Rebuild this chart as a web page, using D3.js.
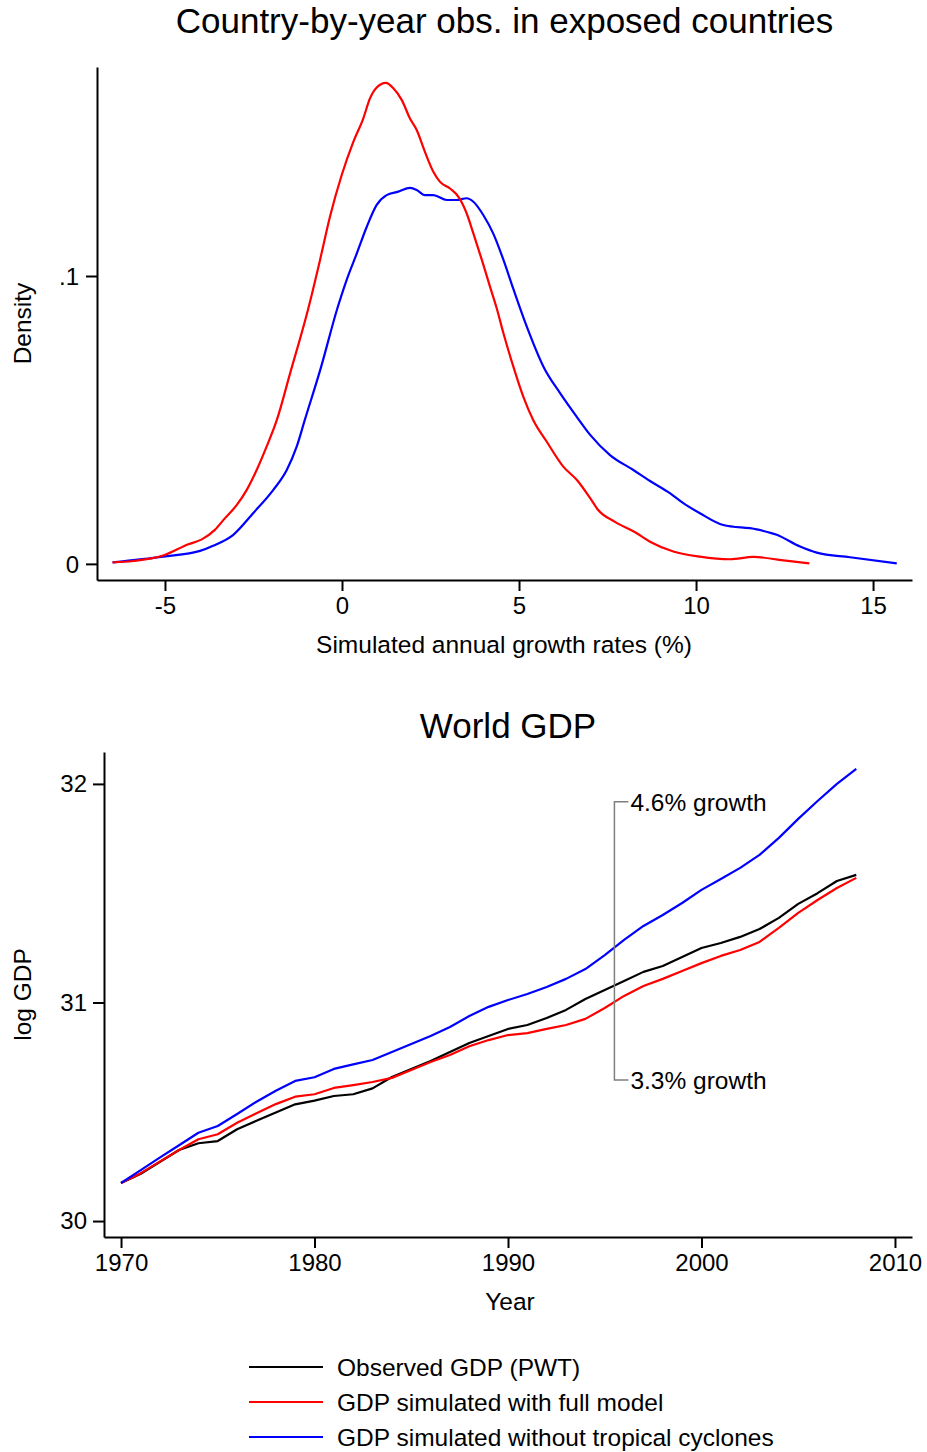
<!DOCTYPE html>
<html>
<head>
<meta charset="utf-8">
<script src="https://cdn.jsdelivr.net/npm/d3@7"></script>
<style>
  html, body { margin: 0; padding: 0; background: #fff; }
  svg { display: block; font-family: "Liberation Sans", Arial, Helvetica, sans-serif; }
</style>
</head>
<body>
<svg id="chart" width="927" height="1452"></svg>
<script>
// Kernel density of simulated annual growth rates (growth %, density)
const densityFull = [
  [-6.48,0.0005],[-5.9,0.001],[-5.05,0.0029],[-4.34,0.0068],[-3.96,0.0085],[-3.59,0.0118],
  [-3.31,0.0158],[-2.97,0.0205],[-2.69,0.0257],[-2.41,0.0326],[-2.13,0.0407],[-1.84,0.05],
  [-1.47,0.066],[-0.95,0.0888],[-0.62,0.1056],[-0.34,0.1206],[-0.01,0.135],[0.32,0.1466],
  [0.6,0.1547],[0.79,0.1617],[0.98,0.1655],[1.24,0.1671],[1.45,0.1652],[1.69,0.1611],
  [1.92,0.1547],[2.11,0.1507],[2.34,0.1432],[2.58,0.1362],[2.77,0.1327],[3.05,0.1304],
  [3.29,0.1275],[3.52,0.1218],[3.71,0.1148],[3.95,0.1056],[4.18,0.0963],[4.37,0.0888],
  [4.56,0.0801],[4.84,0.0685],[5.12,0.0581],[5.4,0.05],[5.78,0.0425],[6.25,0.0338],
  [6.63,0.0292],[7.0,0.023],[7.23,0.0188],[7.71,0.0146],[8.28,0.011],[8.7,0.0077],
  [9.36,0.0043],[10.11,0.0025],[10.96,0.0016],[11.62,0.0024],[12.47,0.0012],[13.2,0.0002]
];
const densityNoCyclones = [
  [-6.48,0.0005],[-5.05,0.0025],[-4.01,0.0045],[-3.64,0.0063],[-3.07,0.0101],[-2.51,0.0176],
  [-1.94,0.0257],[-1.56,0.0326],[-1.28,0.0407],[-1.05,0.05],[-0.6,0.068],[-0.13,0.0888],
  [0.13,0.0986],[0.42,0.1079],[0.70,0.1171],[0.98,0.1247],[1.26,0.1281],[1.59,0.1293],
  [1.92,0.1306],[2.11,0.1299],[2.34,0.1281],[2.58,0.1281],[2.96,0.1264],[3.24,0.1264],
  [3.52,0.127],[3.71,0.1258],[3.99,0.1212],[4.27,0.1148],[4.56,0.1056],[4.84,0.0955],
  [5.22,0.0824],[5.69,0.0685],[6.16,0.0593],[6.63,0.0511],[7.01,0.0448],[7.57,0.0378],
  [8.23,0.0326],[8.70,0.0288],[9.27,0.0245],[9.64,0.0211],[10.11,0.0176],[10.77,0.0135],
  [11.71,0.012],[12.28,0.0101],[12.94,0.006],[13.41,0.0039],[14.35,0.0023],[15.67,0.0002]
];
const densityXTicks = [-5, 0, 5, 10, 15];
const densityXTickLabels = ["-5", "0", "5", "10", "15"];
const densityYTicks = [0, 0.1];
const densityYTickLabels = ["0", ".1"];

// World GDP (log), 1970-2008
const years = d3.range(1970, 2009);
const gdpObserved = [
  30.174,30.215,30.27,30.325,30.356,30.366,30.42,30.459,30.497,30.534,
  30.551,30.572,30.58,30.607,30.659,30.696,30.732,30.773,30.815,30.847,
  30.879,30.897,30.929,30.966,31.016,31.057,31.098,31.14,31.167,31.208,
  31.249,31.272,31.30,31.336,31.387,31.451,31.50,31.556,31.584
];
const gdpFull = [
  30.174,30.218,30.272,30.325,30.374,30.397,30.45,30.493,30.535,30.569,
  30.58,30.609,30.622,30.636,30.655,30.691,30.728,30.76,30.80,30.828,
  30.851,30.86,30.879,30.897,30.925,30.975,31.03,31.075,31.108,31.144,
  31.18,31.213,31.24,31.277,31.341,31.41,31.469,31.524,31.57
];
const gdpNoCyclones = [
  30.174,30.232,30.29,30.347,30.404,30.435,30.49,30.546,30.596,30.641,
  30.658,30.696,30.717,30.737,30.773,30.81,30.847,30.888,30.938,30.98,
  31.011,31.039,31.071,31.108,31.153,31.217,31.286,31.35,31.40,31.455,
  31.515,31.565,31.616,31.675,31.753,31.84,31.922,32.0,32.069
];
const gdpXTicks = [1970, 1980, 1990, 2000, 2010];
const gdpYTicks = [30, 31, 32];
const growthNotes = [
  { label: "4.6% growth", year: 1995.5, value: 31.918 },
  { label: "3.3% growth", year: 1995.5, value: 30.645 }
];
const legendItems = [
  { label: "Observed GDP (PWT)", color: "#000000" },
  { label: "GDP simulated with full model", color: "#ff0000" },
  { label: "GDP simulated without tropical cyclones", color: "#0000ff" }
];

const svg = d3.select("#chart");
const TICK_FONT = 24, TITLE_FONT = 35, LABEL_FONT = 24.5;

function styleAxis(g) {
  g.select(".domain").attr("stroke", "#000").attr("stroke-width", 2);
  g.selectAll(".tick line").attr("stroke", "#000").attr("stroke-width", 2);
  g.selectAll(".tick text").attr("fill", "#000").attr("font-size", TICK_FONT)
    .attr("font-family", "Liberation Sans, Arial, sans-serif");
}

// ---------- Top panel: density ----------
const p1 = { left: 97, right: 912, top: 67, bottom: 580 };
const x1 = d3.scaleLinear().domain([-6.92, 16.1]).range([p1.left, p1.right]);
const y1 = d3.scaleLinear().domain([-0.0056, 0.1726]).range([p1.bottom, p1.top]);

svg.append("text").attr("x", (p1.left + p1.right) / 2).attr("y", 33)
  .attr("text-anchor", "middle").attr("font-size", TITLE_FONT)
  .text("Country-by-year obs. in exposed countries");

svg.append("g").attr("transform", `translate(0,${p1.bottom})`)
  .call(d3.axisBottom(x1).tickValues(densityXTicks).tickSizeInner(11).tickSizeOuter(0).tickPadding(6)
    .tickFormat((d, i) => densityXTickLabels[i]))
  .call(styleAxis);
svg.append("g").attr("transform", `translate(${p1.left},0)`)
  .call(d3.axisLeft(y1).tickValues(densityYTicks).tickSizeInner(11).tickSizeOuter(0).tickPadding(7)
    .tickFormat((d, i) => densityYTickLabels[i]))
  .call(styleAxis)
  .selectAll(".tick text").attr("dy", "0.36em");

const densLine = d3.line().x(d => x1(d[0])).y(d => y1(d[1])).curve(d3.curveMonotoneX);
svg.append("path").datum(densityNoCyclones).attr("d", densLine)
  .attr("fill", "none").attr("stroke", "#0000ff").attr("stroke-width", 2.2);
svg.append("path").datum(densityFull).attr("d", densLine)
  .attr("fill", "none").attr("stroke", "#ff0000").attr("stroke-width", 2.2);

svg.append("text").attr("x", 504).attr("y", 653).attr("text-anchor", "middle")
  .attr("font-size", LABEL_FONT).text("Simulated annual growth rates (%)");
svg.append("text").attr("transform", `translate(31,${(p1.top + p1.bottom) / 2}) rotate(-90)`)
  .attr("text-anchor", "middle").attr("font-size", LABEL_FONT).text("Density");

// ---------- Bottom panel: world GDP ----------
const p2 = { left: 104, right: 912, top: 752, bottom: 1237 };
const x2 = d3.scaleLinear().domain([1969.12, 2010.88]).range([p2.left, p2.right]);
const y2 = d3.scaleLinear().domain([29.927, 32.146]).range([p2.bottom, p2.top]);

svg.append("text").attr("x", (p2.left + p2.right) / 2).attr("y", 738)
  .attr("text-anchor", "middle").attr("font-size", TITLE_FONT).text("World GDP");

svg.append("g").attr("transform", `translate(0,${p2.bottom})`)
  .call(d3.axisBottom(x2).tickValues(gdpXTicks).tickSizeInner(11).tickSizeOuter(0).tickPadding(6)
    .tickFormat(d3.format("d")))
  .call(styleAxis);
svg.append("g").attr("transform", `translate(${p2.left},0)`)
  .call(d3.axisLeft(y2).tickValues(gdpYTicks).tickSizeInner(11).tickSizeOuter(0).tickPadding(6)
    .tickFormat(d3.format("d")))
  .call(styleAxis);

const gdpLine = d3.line().x((d, i) => x2(years[i])).y(d => y2(d));
[[gdpObserved, "#000000"], [gdpFull, "#ff0000"], [gdpNoCyclones, "#0000ff"]].forEach(([s, c]) => {
  svg.append("path").datum(s).attr("d", gdpLine)
    .attr("fill", "none").attr("stroke", c).attr("stroke-width", 2.2)
    .attr("stroke-linejoin", "round");
});

// bracket linking the two growth-rate notes
const nx = x2(growthNotes[0].year);
const nyTop = y2(growthNotes[0].value), nyBot = y2(growthNotes[1].value);
svg.append("path")
  .attr("d", `M${nx + 14},${nyTop}H${nx}V${nyBot}H${nx + 14}`)
  .attr("fill", "none").attr("stroke", "#7f7f7f").attr("stroke-width", 1.5);
growthNotes.forEach(n => {
  svg.append("text").attr("x", x2(n.year) + 16).attr("y", y2(n.value))
    .attr("dy", "0.36em").attr("font-size", LABEL_FONT).text(n.label);
});

svg.append("text").attr("x", 510).attr("y", 1310).attr("text-anchor", "middle")
  .attr("font-size", LABEL_FONT).text("Year");
svg.append("text").attr("transform", `translate(31,${(p2.top + p2.bottom) / 2}) rotate(-90)`)
  .attr("text-anchor", "middle").attr("font-size", LABEL_FONT).text("log GDP");

// ---------- Legend ----------
const legend = svg.append("g").attr("transform", "translate(249,1367)");
legendItems.forEach((item, i) => {
  const g = legend.append("g").attr("transform", `translate(0,${i * 35})`);
  g.append("line").attr("x1", 0).attr("x2", 74).attr("y1", 0).attr("y2", 0)
    .attr("stroke", item.color).attr("stroke-width", 2.2);
  g.append("text").attr("x", 88).attr("y", 0).attr("dy", "0.36em")
    .attr("font-size", LABEL_FONT).text(item.label);
});
</script>
</body>
</html>
